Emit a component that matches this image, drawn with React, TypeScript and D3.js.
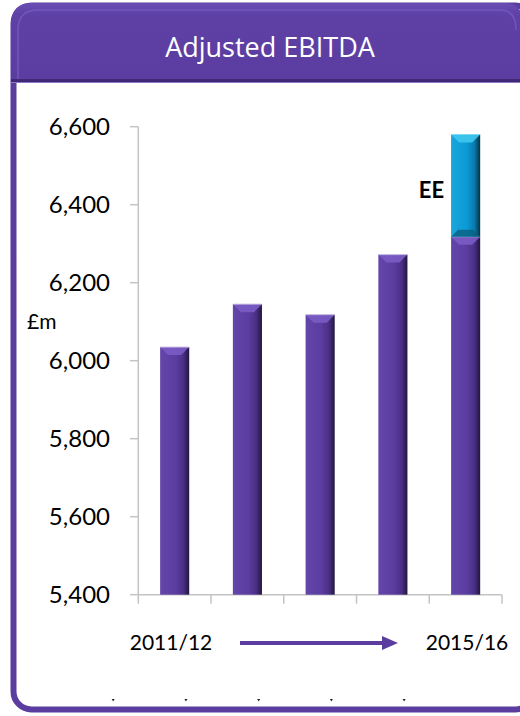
import React from "react";
import * as d3 from "d3";

const categories = ["2011/12", "2012/13", "2013/14", "2014/15", "2015/16"];
const btValues = [6035, 6145, 6118, 6272, 6318];
const eeValues = [0, 0, 0, 0, 262];
const yTicks = [5400, 5600, 5800, 6000, 6200, 6400, 6600];
const title = "Adjusted EBITDA";
const unitLabel = "£m";
const eeLabel = "EE";
const startLabel = "2011/12";
const endLabel = "2015/16";

const W = 520;
const H = 716;
const FONT = "Lato, 'Open Sans', sans-serif";

export default function App() {
  const y = d3.scaleLinear().domain([5400, 6600]).range([594.7, 126.7]);
  const x = d3
    .scaleBand<string>()
    .domain(categories)
    .range([138.3, 502])
    .paddingInner(0.6)
    .paddingOuter(0.3);
  const bw = x.bandwidth();
  const step = x.step();
  const fmt = d3.format(",");
  const baseY = y(5400);

  const stackData = categories.map((c, i) => ({ c, bt: btValues[i], ee: eeValues[i] }));
  const stack = d3.stack<any>().keys(["bt", "ee"]);
  const series = stack(stackData);

  const bevel = (x0: number, top: number, w: number, h: number) => {
    const b = Math.min(8, h / 2);
    return `M${x0},${top}L${x0 + w},${top}L${x0 + w - b},${top + b}L${x0 + b},${top + b}Z`;
  };
  const bevelBottom = (x0: number, bottom: number, w: number) => {
    const b = 7;
    return `M${x0},${bottom}L${x0 + w},${bottom}L${x0 + w - b},${bottom - b}L${x0 + b},${bottom - b}Z`;
  };

  const boundaries = d3.range(categories.length + 1).map((i) => 138.3 + i * step);

  return (
    <svg
      width={W}
      height={H}
      style={{ position: "absolute", left: 0, top: 0, background: "#fff" }}
      fontFamily={FONT}
    >
      <defs>
        <linearGradient id="purpleBar" x1="0" x2="1" y1="0" y2="0">
          <stop offset="0" stopColor="#6446ab" />
          <stop offset="0.55" stopColor="#5b3c9f" />
          <stop offset="0.8" stopColor="#4a2f85" />
          <stop offset="1" stopColor="#22163f" />
        </linearGradient>
        <linearGradient id="blueBar" x1="0" x2="1" y1="0" y2="0">
          <stop offset="0" stopColor="#1aa6dc" />
          <stop offset="0.55" stopColor="#0a9ad5" />
          <stop offset="0.8" stopColor="#0a7aad" />
          <stop offset="1" stopColor="#053246" />
        </linearGradient>
        <linearGradient id="header" x1="0" x2="0" y1="0" y2="1">
          <stop offset="0" stopColor="#6a4db3" />
          <stop offset="0.15" stopColor="#5f41a5" />
          <stop offset="1" stopColor="#5b3da1" />
        </linearGradient>
      </defs>

      {/* Card frame */}
      <rect x={13.5} y={5.5} width={W} height={704} rx={18} fill="#fff" stroke="#5a3d9f" strokeWidth={6} />
      {/* Header */}
      <path
        d={`M11,82 L11,24 Q11,3 32,3 L505,3 Q523,3 523,24 L523,82 Z`}
        fill="url(#header)"
      />
      <path
        d={`M18,80 L18,30 Q18,10 38,10 L500,10 Q516,10 516,30`}
        fill="none"
        stroke="#7a5fc2"
        strokeWidth={1.5}
        opacity={0.7}
      />
      <rect x={11} y={79} width={W} height={3} fill="#3f2875" />
      <rect x={11} y={82} width={W} height={1} fill="#8c78c4" />
      <text x={270} y={57} textAnchor="middle" fill="#fff" fontSize={27} fontFamily="'Open Sans', sans-serif">
        {title}
      </text>

      {/* Axes */}
      <line x1={138.3} x2={138.3} y1={y(6600)} y2={baseY} stroke="#c4c4c4" strokeWidth={1.5} />
      <line x1={138.3} x2={502} y1={baseY} y2={baseY} stroke="#c4c4c4" strokeWidth={1.5} />
      {yTicks.map((t) => (
        <g key={t}>
          <line x1={130} x2={138.3} y1={y(t)} y2={y(t)} stroke="#c4c4c4" strokeWidth={1.5} />
          <text x={110} y={y(t)} dy="0.35em" textAnchor="end" fontSize={24} fill="#000">
            {fmt(t)}
          </text>
        </g>
      ))}
      {boundaries.map((b, i) => (
        <line key={i} x1={b} x2={b} y1={baseY} y2={baseY + 9} stroke="#c4c4c4" strokeWidth={1.5} />
      ))}
      <text x={27} y={322} dy="0.35em" fontSize={21} fill="#000">
        {unitLabel}
      </text>

      {/* Bars */}
      {series.map((s) => (
        <g key={s.key}>
          {s.map((d, i) => {
            const top = y(d[1]);
            const bottom = Math.min(y(d[0]), baseY);
            const h = bottom - top;
            if (h <= 0.5) return null;
            const x0 = x(categories[i]) as number;
            const isEE = s.key === "ee";
            return (
              <g key={i}>
                <rect x={x0} y={top} width={bw} height={h} fill={isEE ? "url(#blueBar)" : "url(#purpleBar)"} />
                <path d={bevel(x0, top, bw, h)} fill={isEE ? "#3fc6ef" : "#7a5cc4"} opacity={0.9} />
                {isEE && <path d={bevelBottom(x0, bottom, bw)} fill="#0b5f80" opacity={0.8} />}
                <line
                  x1={x0}
                  x2={x0 + bw}
                  y1={top}
                  y2={top}
                  stroke={isEE ? "#7fd8f5" : "#c9bfe3"}
                  strokeWidth={1}
                />
              </g>
            );
          })}
        </g>
      ))}
      <text
        x={(x("2015/16") as number) - 7}
        y={y(6437)}
        dy="0.35em"
        textAnchor="end"
        fontSize={22}
        fontWeight="bold"
        fill="#000"
      >
        {eeLabel}
      </text>

      {/* Period arrow */}
      <text x={171} y={643} dy="0.35em" textAnchor="middle" fontSize={21} fill="#000">
        {startLabel}
      </text>
      <text x={467} y={643} dy="0.35em" textAnchor="middle" fontSize={21} fill="#000">
        {endLabel}
      </text>
      <line x1={240} x2={384} y1={643} y2={643} stroke="#5a3d9f" strokeWidth={4} />
      <path d="M382,636 L398,643 L382,650 Z" fill="#5a3d9f" />

      {/* tiny hidden category marks */}
      {categories.map((c) => (
        <path
          key={c}
          d={`M${(x(c) as number) + bw / 2 - 63},699 l3,0 l-1.5,2.5 Z`}
          fill="#222"
        />
      ))}
    </svg>
  );
}
